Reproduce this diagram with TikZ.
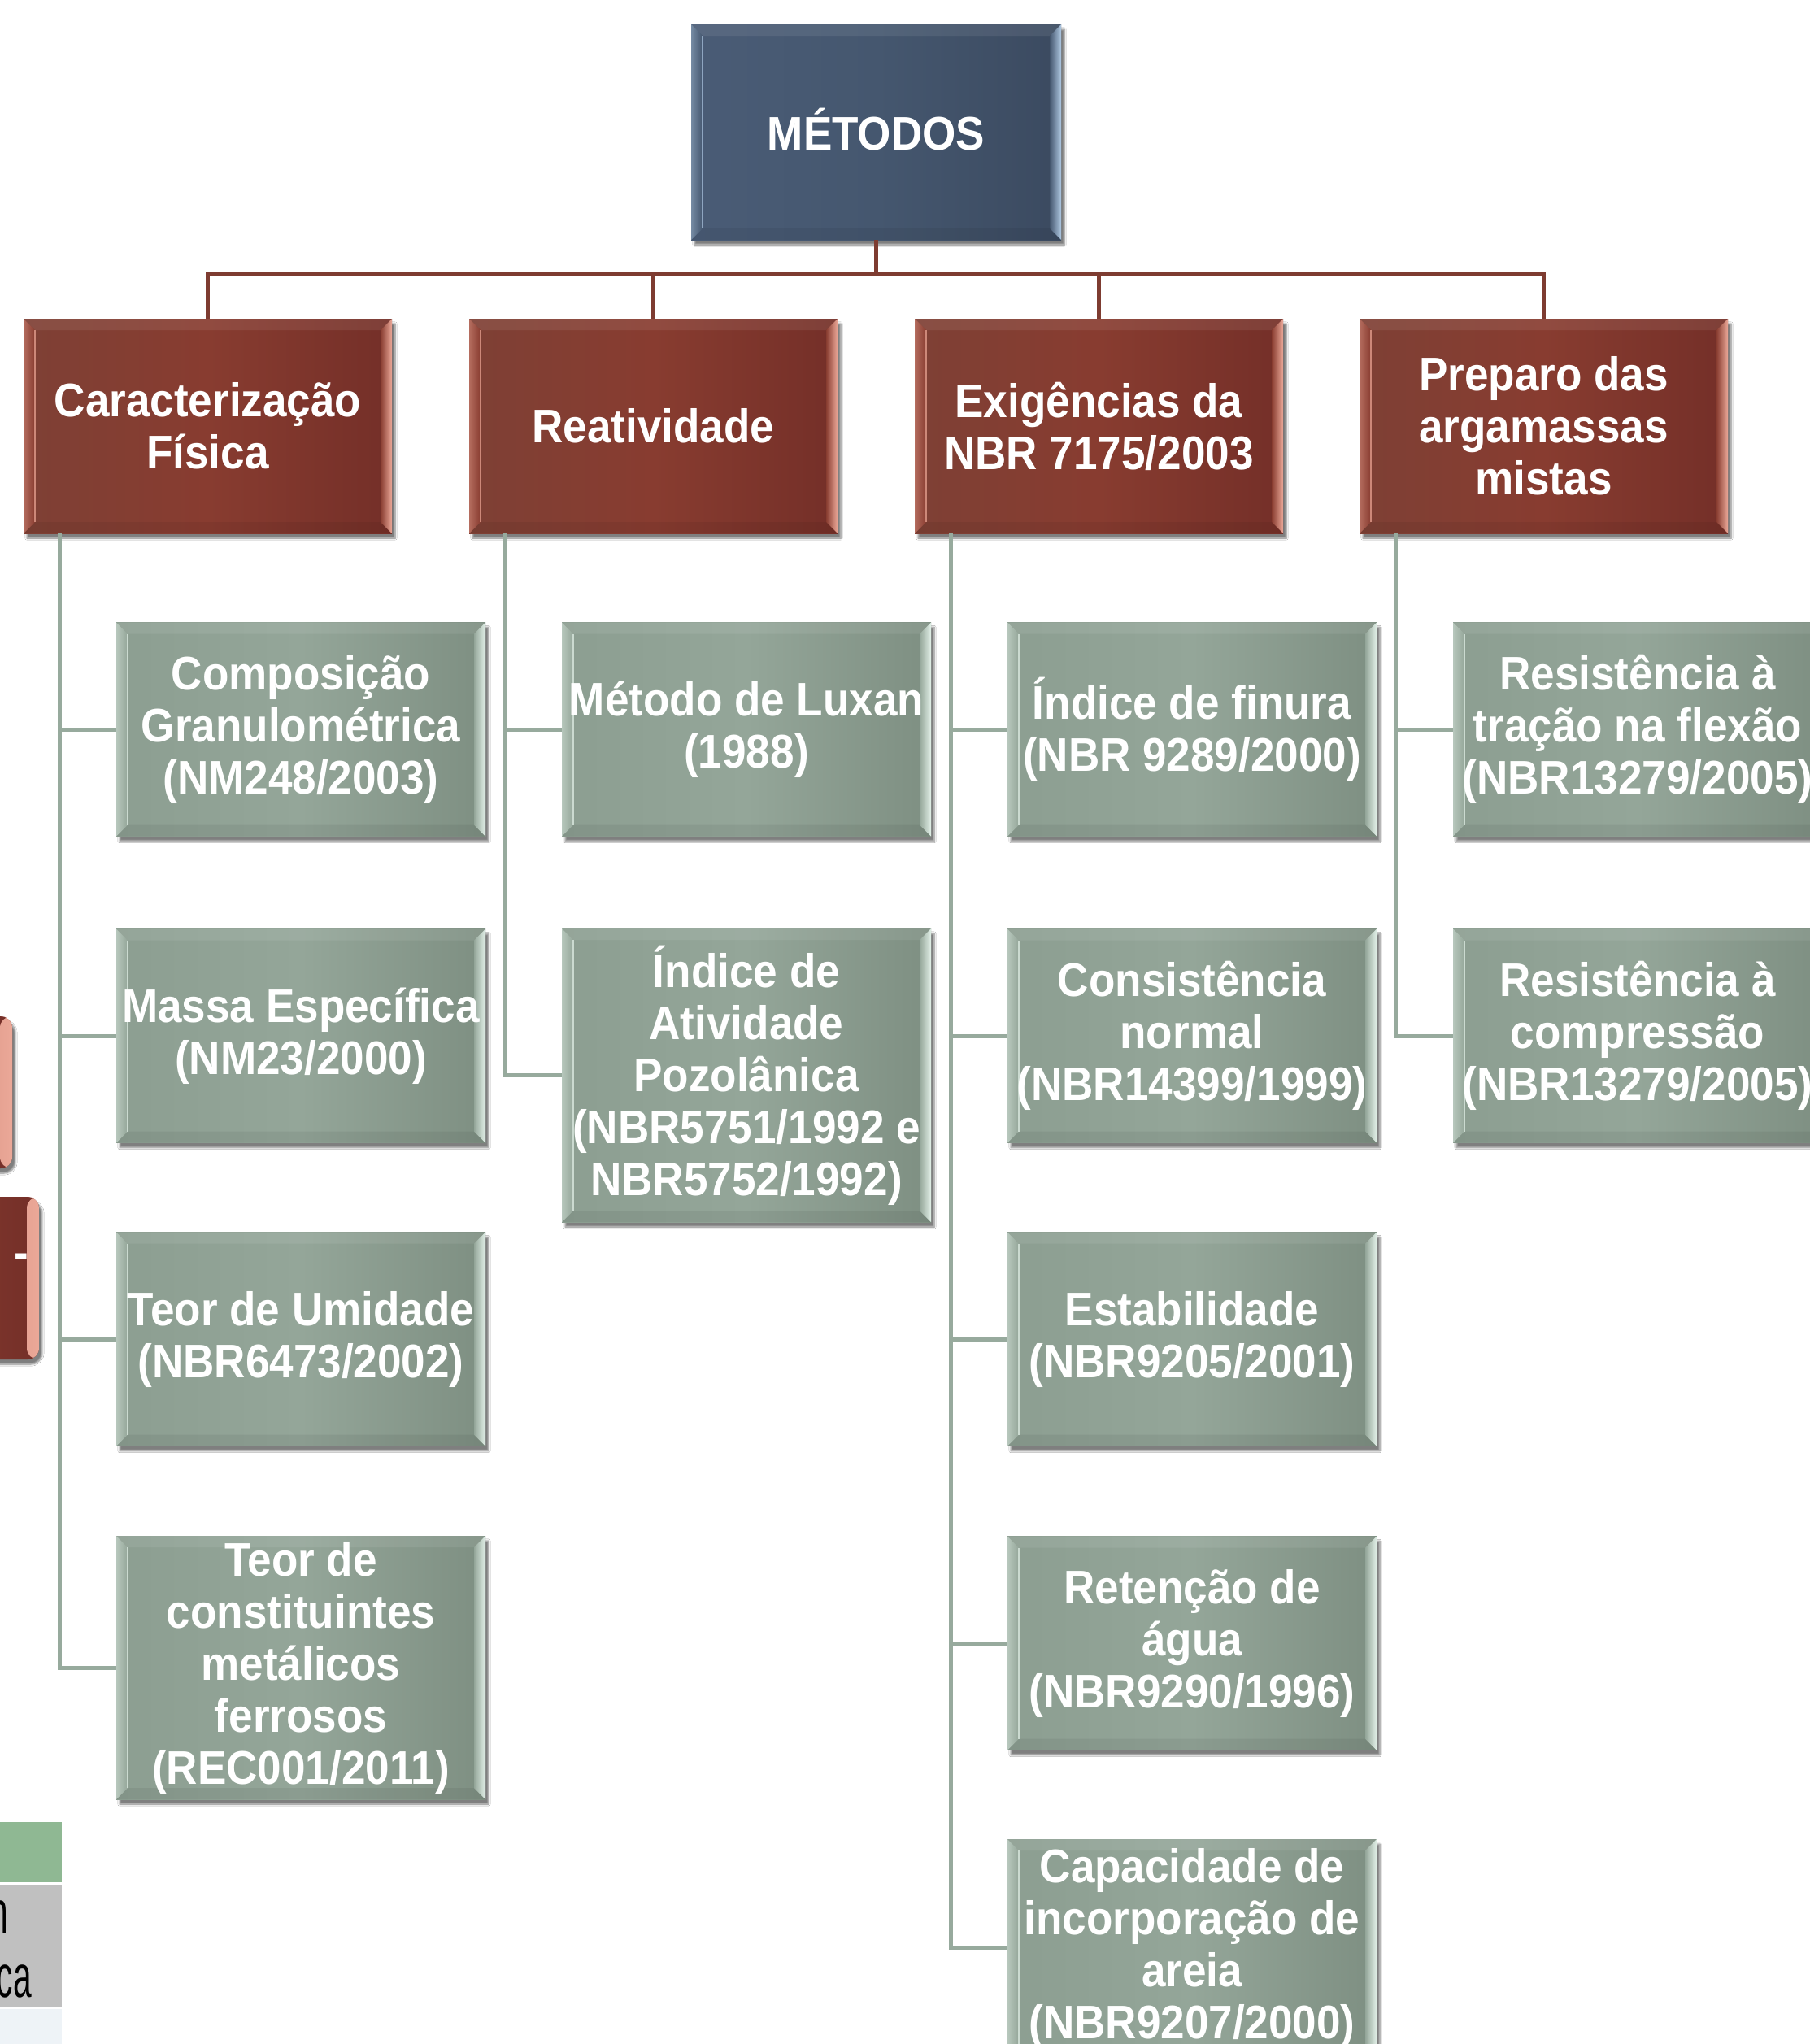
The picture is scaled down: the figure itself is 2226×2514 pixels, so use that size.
\documentclass[tikz,border=0pt]{standalone}
\usepackage{fontspec}
\setmainfont{Liberation Sans}
\newfontfamily\boxfont[FakeStretch=0.915]{Liberation Sans}
\newfontfamily\tabfont[FakeStretch=0.55]{Liberation Sans}
\usetikzlibrary{shadows.blur,calc}

\definecolor{topL}{HTML}{4A5C76}
\definecolor{topM}{HTML}{45576F}
\definecolor{topR}{HTML}{3B4A60}
\definecolor{topH}{HTML}{AFC8E2}
\definecolor{redL}{HTML}{7E4035}
\definecolor{redM}{HTML}{883C30}
\definecolor{redR}{HTML}{742F28}
\definecolor{redH}{HTML}{EBA898}
\definecolor{grnL}{HTML}{8C9E91}
\definecolor{grnM}{HTML}{94A699}
\definecolor{grnR}{HTML}{7E8F82}
\definecolor{grnH}{HTML}{E2F0E8}
\definecolor{redLine}{HTML}{7E3C31}
\definecolor{grnLine}{HTML}{97AA9D}
\definecolor{cellG}{HTML}{8FB893}
\definecolor{cellS}{HTML}{C0C0C0}
\definecolor{cellB}{HTML}{EEF3F7}

\newcommand\bevelpp[2]{%
  \path (path picture bounding box.north west) coordinate (bvA)
        (path picture bounding box.south east) coordinate (bvC);
  \path (bvA -| bvC) coordinate (bvB) (bvC -| bvA) coordinate (bvD);
  \path ([xshift=14pt,yshift=-14pt]bvA) coordinate (bva)
        ([xshift=-14pt,yshift=-14pt]bvB) coordinate (bvb)
        ([xshift=-14pt,yshift=14pt]bvC) coordinate (bvc)
        ([xshift=14pt,yshift=14pt]bvD) coordinate (bvd);
  \fill[white,opacity=.08] (bvA)--(bvB)--(bvb)--(bva)--cycle;
  \fill[black,opacity=.06] (bvD)--(bvC)--(bvc)--(bvd)--cycle;
  \shade[left color=#2!45!#1, right color=#1] (bvA)--(bvD)--(bvd)--(bva)--cycle;
  \shade[left color=#1, right color=#2] (bvB)--(bvC)--(bvc)--(bvb)--cycle;
  \draw[#2!70!#1, line width=1.5pt] (bva)--(bvd);
}

\tikzset{
  boxbase/.style={rectangle, inner sep=0pt, align=center, text=white,
    font=\boxfont\bfseries\fontsize{58}{64}\selectfont,
    blur shadow={shadow xshift=4pt, shadow yshift=-6pt, shadow blur steps=6, shadow opacity=50}},
  topbox/.style={boxbase, minimum width=455, minimum height=265,
    left color=topL, right color=topR, middle color=topM,
    path picture={\bevelpp{topM}{topH}}},
  redbox/.style={boxbase, minimum width=453, minimum height=264,
    left color=redL, right color=redR, middle color=redM,
    path picture={\bevelpp{redM}{redH}}},
  grnbox/.style={boxbase, minimum width=454, minimum height=263,
    left color=grnL, right color=grnR, middle color=grnM,
    path picture={\bevelpp{grnM}{grnH}}},
  fragred/.style={rectangle, rounded corners=14pt, inner sep=0pt,
    left color=redL, right color=redR, middle color=redM,
    blur shadow={shadow xshift=4pt, shadow yshift=-6pt, shadow blur steps=6, shadow opacity=50},
    path picture={\shade[left color=redM, right color=redH]
      ([xshift=-15pt]path picture bounding box.north east) rectangle (path picture bounding box.south east);}},
  redln/.style={draw=redLine, line width=5pt},
  grnln/.style={draw=grnLine, line width=5pt},
  cell/.style={rectangle, inner sep=0pt, draw=none, minimum width=152},
  tabtext/.style={inner sep=0pt, text=black, font=\tabfont\fontsize{74}{79}\selectfont},
}

\begin{document}
\begin{tikzpicture}[x=1pt,y=-1pt]
\path[use as bounding box, fill=white] (0,0) rectangle (2226,2514);

% left-edge fragments
\node[fragred, minimum width=315, minimum height=187] (f1) at (-142.5,1343.5) {};
\node[fragred, minimum width=348, minimum height=200] (f2) at (-126,1572) {};
\node[inner sep=0pt, text=white, font=\boxfont\bfseries\fontsize{58}{64}\selectfont] (f2t) at (26,1551) {-};

% table fragments
\node[cell, fill=cellG, minimum height=74] (t1) at (0,2278) {};
\node[cell, fill=cellS, minimum height=150] (t2) at (0,2393) {};
\node[cell, fill=cellB, minimum height=89] (t3) at (0,2515.5) {};
\node[tabtext, anchor=base east] (t2a) at (10,2377) {n};
\node[tabtext, anchor=base east] (t2b) at (39,2456) {ca};

% top
\node[topbox] (top) at (1077.5,162.5) {\raisebox{7pt}{MÉTODOS}};

% level 1
\node[redbox] (r1) at (255.5,524) {Caracterização\\Física};
\node[redbox] (r2) at (803.5,524) {Reatividade};
\node[redbox] (r3) at (1351.5,524) {Exigências da\\NBR 7175/2003};
\node[redbox] (r4) at (1898.5,524) {Preparo das\\argamassas\\mistas};

% column 1
\node[grnbox] (g11) at (370,897) {Composição\\Granulométrica\\(NM248/2003)};
\node[grnbox] (g12) at (370,1274) {Massa Específica\\(NM23/2000)};
\node[grnbox] (g13) at (370,1647) {Teor de Umidade\\(NBR6473/2002)};
\node[grnbox, minimum height=324] (g14) at (370,2051) {Teor de\\constituintes\\metálicos\\ferrosos\\(REC001/2011)};

% column 2
\node[grnbox] (g21) at (918,897) {Método de Luxan\\(1988)};
\node[grnbox, minimum height=361] (g22) at (918,1322.5) {Índice de\\Atividade\\Pozolânica\\(NBR5751/1992 e\\NBR5752/1992)};

% column 3
\node[grnbox] (g31) at (1466,897) {Índice de finura\\(NBR 9289/2000)};
\node[grnbox] (g32) at (1466,1274) {Consistência\\normal\\(NBR14399/1999)};
\node[grnbox] (g33) at (1466,1647) {Estabilidade\\(NBR9205/2001)};
\node[grnbox] (g34) at (1466,2021) {Retenção de\\água\\(NBR9290/1996)};
\node[grnbox, minimum height=268] (g35) at (1466,2396) {Capacidade de\\incorporação de\\areia\\(NBR9207/2000)};

% column 4
\node[grnbox] (g41) at (2014,897) {Resistência à\\tração na flexão\\(NBR13279/2005)};
\node[grnbox] (g42) at (2014,1274) {Resistência à\\compressão\\(NBR13279/2005)};

% connectors top -> level 1
\foreach \r in {r1,r2,r3,r4}
  \draw[redln] (top.south) -- ++(0,42) -| (\r.north);

% connectors level 1 -> children
\foreach \r/\g in {r1/g11,r1/g12,r1/g13,r1/g14,r2/g21,r2/g22,
                   r3/g31,r3/g32,r3/g33,r3/g34,r3/g35,r4/g41,r4/g42}
  \draw[grnln] ([xshift=45pt]\r.south west) |- (\g.west);
\end{tikzpicture}
\end{document}
